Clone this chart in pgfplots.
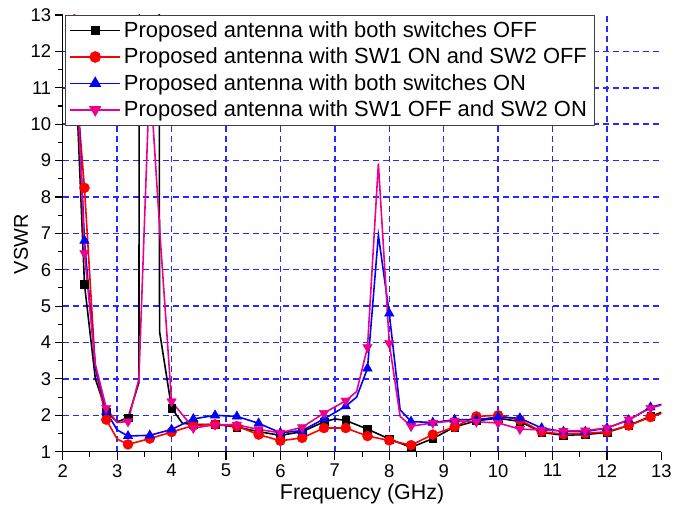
\documentclass[border=0pt]{standalone}
\usepackage{pgfplots}
\usepackage{pgfplotstable}
\usepackage{fontspec}
\setmainfont{Liberation Sans}
\pgfplotsset{compat=1.18}

\definecolor{gridblue}{RGB}{40,40,255}

% line data (x, VSWR), extra points only where the curves turn sharply
\pgfplotstableread{
x y
2.2 12.8
2.4 5.6
2.6 3.0
2.8 2.1
3.0 1.82
3.2 1.93
3.4 2.9
3.42 30
3.76 30
3.78 4.3
4.0 2.2
4.2 1.78
4.4 1.75
4.8 1.75
5.2 1.68
5.6 1.55
6.0 1.45
6.4 1.55
6.8 1.82
7.0 1.9
7.2 1.86
7.6 1.62
8.0 1.35
8.4 1.12
8.8 1.36
9.2 1.68
9.6 1.85
10.0 1.92
10.4 1.83
10.8 1.53
11.2 1.45
11.6 1.47
12.0 1.53
12.4 1.72
12.8 1.97
13.0 2.08
}\offoff

\pgfplotstableread{
x y
2.2 12.0
2.4 8.25
2.6 3.3
2.8 1.88
3.0 1.35
3.2 1.2
3.6 1.36
4.0 1.54
4.4 1.72
4.8 1.75
5.2 1.7
5.6 1.47
6.0 1.3
6.4 1.38
6.8 1.65
7.2 1.65
7.6 1.43
8.0 1.31
8.4 1.18
8.8 1.47
9.2 1.68
9.6 1.97
10.0 2.0
10.4 1.87
10.8 1.55
11.2 1.48
11.6 1.5
12.0 1.55
12.4 1.72
12.8 1.95
13.0 2.05
}\onoff

\pgfplotstableread{
x y
2.2 13.5
2.4 6.8
2.6 3.3
2.8 2.1
3.0 1.6
3.2 1.43
3.6 1.45
4.0 1.61
4.4 1.9
4.8 2.0
5.2 1.97
5.6 1.78
6.0 1.52
6.4 1.58
6.8 1.9
7.2 2.25
7.4 2.5
7.6 3.29
7.8 6.95
8.0 4.8
8.2 2.15
8.4 1.83
8.8 1.8
9.2 1.88
9.6 1.88
10.0 1.95
10.4 1.92
10.8 1.65
11.2 1.55
11.6 1.55
12.0 1.65
12.4 1.87
12.8 2.22
13.0 2.3
}\onon

\pgfplotstableread{
x y
2.2 13.5
2.4 6.45
2.6 3.4
2.8 2.2
3.0 1.8
3.2 1.83
3.4 3.0
3.6 11.4
3.8 6.7
4.0 2.38
4.4 1.65
4.8 1.74
5.2 1.74
5.6 1.61
6.0 1.52
6.4 1.67
6.8 2.06
7.2 2.4
7.4 2.65
7.6 3.87
7.8 8.92
8.0 3.98
8.2 1.97
8.4 1.7
8.8 1.79
9.2 1.85
9.6 1.82
10.0 1.79
10.4 1.62
10.8 1.6
11.2 1.57
11.6 1.58
12.0 1.65
12.4 1.88
12.8 2.2
13.0 2.28
}\offon

% marker points, every 0.4 GHz
\pgfplotstableread{
x black red blue magenta
2.4 5.6 8.25 6.8 6.45
2.8 2.1 1.88 2.1 2.2
3.2 1.93 1.2 1.43 1.83
3.6 nan 1.36 1.45 11.4
4.0 2.2 1.54 1.61 2.38
4.4 1.75 1.72 1.9 1.65
4.8 1.75 1.75 2.0 1.74
5.2 1.68 1.7 1.97 1.74
5.6 1.55 1.47 1.78 1.61
6.0 1.45 1.3 1.52 1.52
6.4 1.55 1.38 1.58 1.67
6.8 1.82 1.65 1.9 2.06
7.2 1.86 1.65 2.25 2.4
7.6 1.62 1.43 3.29 3.87
8.0 1.35 1.31 4.8 3.98
8.4 1.12 1.18 1.83 1.7
8.8 1.36 1.47 1.8 1.79
9.2 1.68 1.68 1.88 1.85
9.6 1.85 1.97 1.88 1.82
10.0 1.92 2.0 1.95 1.79
10.4 1.83 1.87 1.92 1.62
10.8 1.53 1.55 1.65 1.6
11.2 1.45 1.48 1.55 1.57
11.6 1.47 1.5 1.55 1.58
12.0 1.53 1.55 1.65 1.65
12.4 1.72 1.72 1.87 1.88
12.8 1.97 1.95 2.22 2.2
}\marks

\begin{document}
\begin{tikzpicture}
\begin{axis}[
    scale only axis,
    width=598.7bp, height=436.7bp,
    xmin=2, xmax=13, ymin=1, ymax=13,
    xtick={2,...,12}, ytick={1,...,12},
    extra x ticks={13}, extra y ticks={13},
    extra tick style={grid=none},
    minor x tick num=1, minor y tick num=1,
    axis x line*=bottom, axis y line*=left,
    axis line style={black, line width=1.2bp},
    tick align=outside,
    major tick length=8bp, minor tick length=5bp,
    major tick style={black, line width=1.1bp},
    minor tick style={black, line width=1.1bp},
    grid=major,
    grid style={gridblue, line width=1.5bp, dash pattern=on 6bp off 4bp},
    major grid style={gridblue, line width=1.5bp, dash pattern=on 6bp off 4bp},
    tick label style={font=\fontsize{18.5}{20}\selectfont},
    xticklabel style={yshift=-1bp},
    /pgf/number format/assume math mode=true,
    xlabel={Frequency (GHz)}, ylabel={VSWR},
    xlabel style={font=\fontsize{21.5}{24}\selectfont,
        at={([yshift=-47.5bp]axis description cs:0.5,0)}, anchor=base},
    ylabel style={font=\fontsize{20}{24}\selectfont,
        at={([shift={(-34.7bp,-11bp)}]axis description cs:0,0.5)}, anchor=base},
    legend cell align=left,
    legend style={at={(rel axis cs:0.004,1)}, anchor=north west,
        draw=black!75, line width=0.8bp, fill=white,
        inner xsep=4bp, inner ysep=2bp,
        font=\fontsize{22}{25}\selectfont,
        nodes={text height=17bp, text depth=3bp, inner ysep=3.2bp, inner xsep=3bp}},
    legend image code/.code={\draw[mark repeat=2,mark phase=2] plot coordinates {(0cm,0cm) (0.88cm,0cm) (1.76cm,0cm)};},
]
\addlegendimage{black, line width=1.6bp, mark=square*, mark size=3.8bp}
\addlegendentry{Proposed antenna with both switches OFF}
\addlegendimage{red, line width=1.6bp, mark=*, mark size=5bp}
\addlegendentry{Proposed antenna with SW1 ON and SW2 OFF}
\addlegendimage{blue, line width=1.6bp, mark=triangle*, mark size=5.5bp}
\addlegendentry{Proposed antenna with both switches ON}
\addlegendimage{magenta, line width=1.6bp, mark=triangle*, mark size=5.5bp, mark options={rotate=180}}
\addlegendentry{Proposed antenna with SW1 OFF and SW2 ON}

\addplot[black, line width=1.6bp, forget plot] table {\offoff};
\addplot[black, only marks, mark=square*, mark size=3.8bp, forget plot] table[x=x, y=black] {\marks};
\addplot[red, line width=1.6bp, forget plot] table {\onoff};
\addplot[red, only marks, mark=*, mark size=5bp, forget plot] table[x=x, y=red] {\marks};
\addplot[blue, line width=1.6bp, forget plot] table {\onon};
\addplot[blue, only marks, mark=triangle*, mark size=5.5bp, forget plot] table[x=x, y=blue] {\marks};
\addplot[magenta, line width=1.6bp, forget plot] table {\offon};
\addplot[magenta, only marks, mark=triangle*, mark size=5.5bp, mark options={rotate=180}, forget plot] table[x=x, y=magenta] {\marks};
\end{axis}
\path ([shift={(-62.7bp,-54.3bp)}]current axis.south west) rectangle ([shift={(21.6bp,15bp)}]current axis.north east);
\end{tikzpicture}
\end{document}
